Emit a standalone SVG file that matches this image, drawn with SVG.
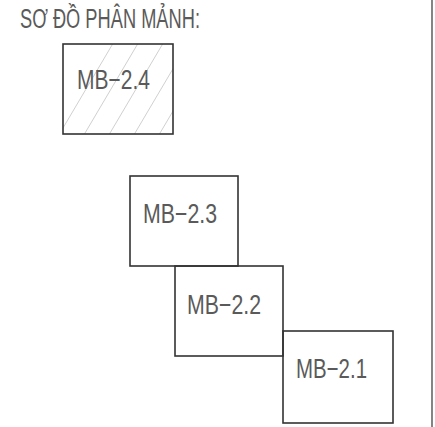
<svg xmlns="http://www.w3.org/2000/svg" width="435" height="427" viewBox="0 0 435 427">
<style>
.box{fill:none;stroke:#333;stroke-width:1.6}
.lbl{font-family:"Liberation Sans",Arial,sans-serif;font-size:27px;fill:#5a5a5a}
.hatch{stroke:#d0d0d0;stroke-width:1}
</style>
<defs>
<clipPath id="c24"><rect x="63" y="44" width="110" height="90"/></clipPath>
</defs>
<rect width="435" height="427" fill="#fff"/>
<line x1="432" y1="0" x2="432" y2="427" stroke="#666" stroke-width="1.6"/>
<text x="20" y="28" class="lbl" textLength="180" lengthAdjust="spacingAndGlyphs" font-size="21">SƠ ĐỒ PHÂN MẢNH:</text>
<g id="mb24">
<g clip-path="url(#c24)">
<line class="hatch" x1="50" y1="150" x2="115" y2="40"/>
<line class="hatch" x1="75" y1="150" x2="140" y2="40"/>
<line class="hatch" x1="100" y1="150" x2="165" y2="40"/>
<line class="hatch" x1="125" y1="150" x2="190" y2="40"/>
<line class="hatch" x1="150" y1="150" x2="215" y2="40"/>
</g>
<rect class="box" x="63" y="44" width="110" height="90"/>
<text x="77" y="89" class="lbl" textLength="73" lengthAdjust="spacingAndGlyphs">MB−2.4</text>
</g>
<g id="mb23">
<rect class="box" x="130" y="176" width="108" height="90"/>
<text x="143" y="223" class="lbl" textLength="74" lengthAdjust="spacingAndGlyphs">MB−2.3</text>
</g>
<g id="mb22">
<rect class="box" x="175" y="266" width="108" height="90"/>
<text x="187" y="314" class="lbl" textLength="74" lengthAdjust="spacingAndGlyphs">MB−2.2</text>
</g>
<g id="mb21">
<rect class="box" x="283" y="331" width="110" height="92"/>
<text x="296" y="378" class="lbl" textLength="71" lengthAdjust="spacingAndGlyphs">MB−2.1</text>
</g>
<g id="connectors"></g>
</svg>
